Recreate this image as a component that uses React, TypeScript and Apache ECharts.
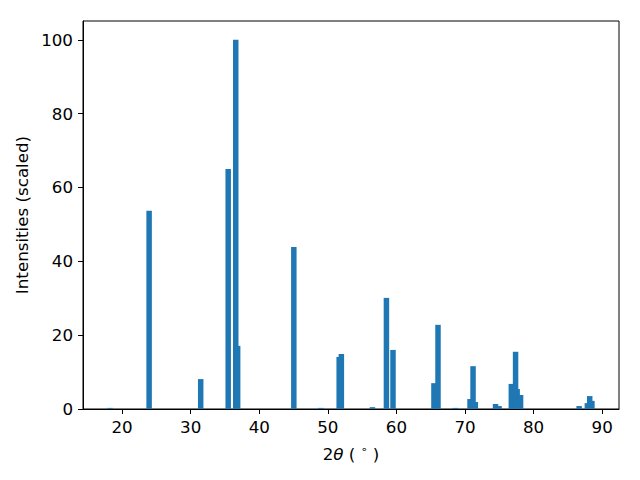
import React, { useEffect, useRef } from "react";
import * as echarts from "echarts";

const positions = [18.25, 23.94, 31.46, 35.47, 36.57, 36.85, 45.04, 48.98, 51.65, 51.97, 56.5, 58.54, 59.5, 65.47, 66.06, 68.6, 70.73, 71.17, 71.5, 74.45, 74.96, 76.75, 77.37, 77.6, 78.1, 86.64, 87.84, 88.18, 88.5];
const intensities = [0.3, 53.7, 8.1, 65.0, 100, 17.1, 43.9, 0.3, 14.1, 14.9, 0.5, 30.1, 16.0, 7.0, 22.8, 0.3, 2.7, 11.6, 1.9, 1.35, 0.8, 6.8, 15.5, 5.4, 3.8, 0.8, 1.6, 3.5, 2.2];
const xTicks = [20, 30, 40, 50, 60, 70, 80, 90];
const yTicks = [0, 20, 40, 60, 80, 100];
const barWidth = 0.8;

export default function App() {
  const ref = useRef<HTMLDivElement>(null);
  useEffect(() => {
    const chart = echarts.init(ref.current!, null, { renderer: "svg" });
    const font = "'DejaVu Sans', sans-serif";
    const fs = 16.7;
    chart.setOption({
      animation: false,
      backgroundColor: "#ffffff",
      textStyle: { fontFamily: font, fontSize: fs },
      grid: { left: 83, right: 21, top: 21, bottom: 71, show: true, borderColor: "#000", borderWidth: 1, backgroundColor: "transparent" },
      xAxis: {
        type: "value",
        min: 14.3,
        max: 92.45,
        name: "2{i|θ} ( {s|∘} )",
        nameLocation: "middle",
        nameGap: 35,
        nameTextStyle: {
          fontSize: fs, color: "#000", fontFamily: font,
          rich: {
            i: { fontStyle: "italic", fontSize: fs, fontFamily: font, color: "#000" },
            s: { fontSize: 11, fontFamily: font, color: "#000", padding: [0, 0, 8, 0] },
          },
        },
        axisLine: { show: true, lineStyle: { color: "#000", width: 1 } },
        axisTick: { show: true, length: 5, lineStyle: { color: "#000" }, customValues: xTicks },
        axisLabel: { color: "#000", fontSize: fs, margin: 9, customValues: xTicks, fontFamily: font },
        splitLine: { show: false },
      },
      yAxis: {
        type: "value",
        min: 0,
        max: 105.1,
        name: "Intensities (scaled)",
        nameLocation: "middle",
        nameGap: 42,
        nameTextStyle: { fontSize: fs, color: "#000", fontFamily: font },
        axisLine: { show: true, lineStyle: { color: "#000", width: 1 } },
        axisTick: { show: true, length: 5, lineStyle: { color: "#000" }, customValues: yTicks },
        axisLabel: { color: "#000", fontSize: fs, margin: 10, customValues: yTicks, fontFamily: font },
        splitLine: { show: false },
      },
      series: [
        {
          type: "custom",
          clip: true,
          data: positions.map((p, i) => [p, intensities[i]]),
          encode: { x: 0, y: 1 },
          renderItem: (params: any, api: any) => {
            const x = api.value(0);
            const h = api.value(1);
            const p0 = api.coord([x - barWidth / 2, h]);
            const p1 = api.coord([x + barWidth / 2, 0]);
            return {
              type: "rect",
              shape: { x: p0[0], y: p0[1], width: p1[0] - p0[0], height: p1[1] - p0[1] },
              style: { fill: "#1f77b4" },
            };
          },
        },
      ],
    });
    return () => chart.dispose();
  }, []);
  return <div ref={ref} style={{ position: "fixed", left: 0, top: 0, width: 640, height: 480 }} />;
}
